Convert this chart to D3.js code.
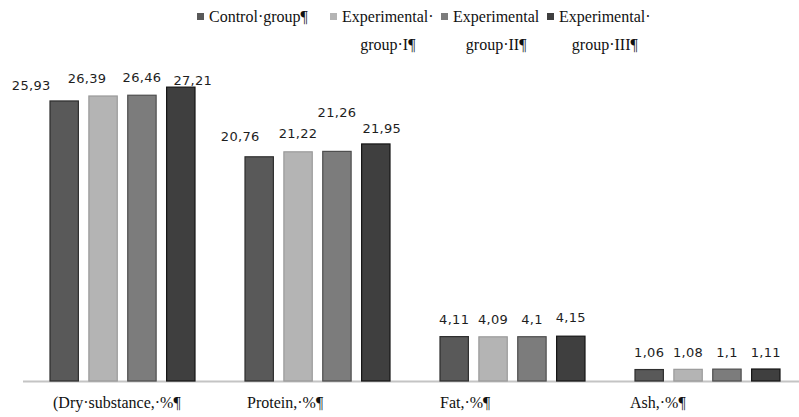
<!DOCTYPE html>
<html>
<head>
<meta charset="utf-8">
<script src="https://cdn.jsdelivr.net/npm/d3@7/dist/d3.min.js"></script>
<style>
  html, body { margin: 0; padding: 0; background: #fff; }
  svg { display: block; }
</style>
</head>
<body>
<svg id="chart" width="799" height="417"></svg>
<script>
// Composition indicators by group
const categories = ["(Dry·substance,·%¶", "Protein,·%¶", "Fat,·%¶", "Ash,·%¶"];
const seriesNames = ["Control group", "Experimental group I", "Experimental group II", "Experimental group III"];
const legendLines = [["Control·group¶"], ["Experimental·", "group·I¶"], ["Experimental", "group·II¶"], ["Experimental·", "group·III¶"]];
const controlGroup = [25.93, 20.76, 4.11, 1.06];
const experimentalI = [26.39, 21.22, 4.09, 1.08];
const experimentalII = [26.46, 21.26, 4.10, 1.10];
const experimentalIII = [27.21, 21.95, 4.15, 1.11];
const valueLabels = [
  ["25,93", "20,76", "4,11", "1,06"],
  ["26,39", "21,22", "4,09", "1,08"],
  ["26,46", "21,26", "4,1", "1,1"],
  ["27,21", "21,95", "4,15", "1,11"]
];

const seriesValues = [controlGroup, experimentalI, experimentalII, experimentalIII];

// styling
const fills = ["#595959", "#b4b4b4", "#7c7c7c", "#3f3f3f"];
const strokes = ["#2e2e2e", "#9a9a9a", "#4e4e4e", "#151515"];

// hand-placed label offsets [dx, dy] per series/category
const labelNudge = [
  [[-33, 1], [-19, -3], [0, 0], [0, 0]],
  [[-16, -1], [0, -1], [0, 0], [0, 0]],
  [[0, -1], [0, -22], [0, 0], [0, 0]],
  [[12, 10], [6, 2], [0, -2], [0, 0]]
];

const svg = d3.select("#chart");
const baseY = 381;

const y = d3.scaleLinear().domain([0, 35]).range([baseY, 3]);
const x0 = d3.scaleBand().domain(categories).range([25, 805]);
const x1 = d3.scaleBand().domain(seriesNames).range([25, 170]).paddingInner(0.27).paddingOuter(0);

// baseline
svg.append("line")
  .attr("x1", 23).attr("x2", 799)
  .attr("y1", baseY + 0.5).attr("y2", baseY + 0.5)
  .attr("stroke", "#c4c4c4").attr("stroke-width", 2);

const rows = [];
seriesNames.forEach((s, si) => {
  categories.forEach((c, ci) => {
    rows.push({ s, si, c, ci, v: seriesValues[si][ci], label: valueLabels[si][ci] });
  });
});

svg.append("g").selectAll("rect").data(rows).join("rect")
  .attr("x", d => x0(d.c) + x1(d.s))
  .attr("y", d => y(d.v))
  .attr("width", x1.bandwidth())
  .attr("height", d => baseY - y(d.v))
  .attr("fill", d => fills[d.si])
  .attr("stroke", d => strokes[d.si])
  .attr("stroke-width", 1.2);

svg.append("g").selectAll("text").data(rows).join("text")
  .attr("x", d => x0(d.c) + x1(d.s) + x1.bandwidth() / 2 + labelNudge[d.si][d.ci][0])
  .attr("y", d => y(d.v) - 17 + labelNudge[d.si][d.ci][1])
  .attr("dy", "0.35em")
  .attr("text-anchor", "middle")
  .attr("font-family", "DejaVu Sans, sans-serif")
  .attr("font-size", 13)
  .attr("letter-spacing", 0.3)
  .attr("fill", "#1e1e1e")
  .text(d => d.label);

// category labels, left aligned under each group's first bar
svg.append("g").selectAll("text").data(categories).join("text")
  .attr("x", (c, i) => x0(c) + x1(seriesNames[0]) + [3, 2, 0, -5][i])
  .attr("y", 408)
  .attr("font-family", "Liberation Serif, serif")
  .attr("font-size", 16)
  .attr("fill", "#111")
  .text(c => c);

// legend
const legendX = [197, 330, 441, 547];
const lg = svg.append("g");
seriesNames.forEach((s, i) => {
  lg.append("rect")
    .attr("x", legendX[i]).attr("y", 13)
    .attr("width", 7).attr("height", 7)
    .attr("fill", fills[i]);
  const first = lg.append("text")
    .attr("x", legendX[i] + 12).attr("y", 22)
    .attr("font-family", "Liberation Serif, serif")
    .attr("font-size", 16)
    .attr("fill", "#111")
    .text(legendLines[i][0]);
  if (legendLines[i].length > 1) {
    const w = first.node().getComputedTextLength();
    lg.append("text")
      .attr("x", legendX[i] + 12 + w / 2).attr("y", 50)
      .attr("text-anchor", "middle")
      .attr("font-family", "Liberation Serif, serif")
      .attr("font-size", 16)
      .attr("fill", "#111")
      .text(legendLines[i][1]);
  }
});
</script>
</body>
</html>
